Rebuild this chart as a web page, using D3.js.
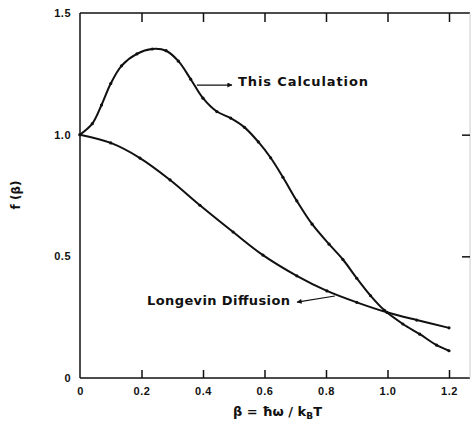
<!DOCTYPE html>
<html lang="en">
<head>
    <meta charset="UTF-8">
    <title>f(beta)</title>
    <style>
        body {
            margin: 0;
            padding: 0;
            background: #fff;
        }

        svg {
            display: block;
            font-family: "DejaVu Sans", sans-serif;
            font-weight: bold;
        }

        .tick text {
            font-size: 11px;
            fill: #111;
        }

        .curve {
            fill: none;
            stroke: #111;
            stroke-width: 2;
        }
    </style>
</head>
<body>
    <div id="chart"></div>

    <script src="https://d3js.org/d3.v7.min.js"></script>
    <script>
        // valores
        const betaCalc = [0, 0.04, 0.07, 0.1, 0.135, 0.185, 0.235, 0.28, 0.32, 0.36, 0.4, 0.445, 0.49, 0.535,
            0.58, 0.62, 0.66, 0.705, 0.755, 0.81, 0.855, 0.9, 0.945, 0.99, 1.05, 1.105, 1.16, 1.2];
        const fCalc = [1.0, 1.045, 1.122, 1.21, 1.283, 1.332, 1.352, 1.345, 1.302, 1.228, 1.15, 1.095, 1.068, 1.03,
            0.97, 0.905, 0.825, 0.728, 0.632, 0.55, 0.487, 0.41, 0.338, 0.278, 0.222, 0.18, 0.135, 0.112];

        const betaLangevin = [0, 0.1, 0.195, 0.293, 0.39, 0.498, 0.595, 0.705, 0.803, 0.9, 0.998, 1.095, 1.2];
        const fLangevin = [1.0, 0.966, 0.904, 0.814, 0.71, 0.6, 0.505, 0.42, 0.358, 0.311, 0.27, 0.238, 0.206];

        const xTicks = [0, 0.2, 0.4, 0.6, 0.8, 1.0, 1.2];
        const xTickLabels = ["0", "0.2", "0.4", "0.6", "0.8", "1.0", "1.2"];
        const yTicks = [0, 0.5, 1.0, 1.5];
        const yTickLabels = ["0", "0.5", "1.0", "1.5"];

        const width = 471;
        const height = 425;
        const frameRight = 470;

        const svg = d3.select("#chart")
            .append("svg")
            .attr("width", width)
            .attr("height", height);

        const x = d3.scaleLinear().domain([0, 1.2]).range([80, 449]);
        const y = d3.scaleLinear().domain([0, 1.5]).range([378, 13]);

        // marco
        const frame = svg.append("g").attr("stroke", "#111").attr("stroke-width", 1.5);
        frame.append("line").attr("x1", x(0)).attr("x2", frameRight).attr("y1", y(0)).attr("y2", y(0));
        frame.append("line").attr("x1", x(0)).attr("x2", frameRight).attr("y1", y(1.5)).attr("y2", y(1.5));
        frame.append("line").attr("x1", x(0)).attr("x2", x(0)).attr("y1", y(0)).attr("y2", y(1.5));
        svg.append("line")
            .attr("x1", frameRight).attr("x2", frameRight)
            .attr("y1", y(1.5)).attr("y2", y(0))
            .attr("stroke", "#ccc").attr("stroke-width", 1);

        // ejes
        const xAxis = svg.append("g")
            .attr("transform", `translate(0, ${y(0)})`)
            .call(d3.axisBottom(x).tickValues(xTicks).tickSize(-8).tickPadding(9)
                .tickFormat((d, i) => xTickLabels[i]));
        xAxis.select(".domain").remove();
        xAxis.selectAll(".tick line").attr("stroke", "#111").attr("stroke-width", 1.5)
            .filter(d => d === 0).remove();
        xAxis.selectAll(".tick text").attr("letter-spacing", 0.5);

        const xTop = svg.append("g")
            .attr("transform", `translate(0, ${y(1.5)})`)
            .call(d3.axisTop(x).tickValues(xTicks.slice(1)).tickSize(-9).tickFormat(""));
        xTop.select(".domain").remove();
        xTop.selectAll(".tick line").attr("stroke", "#111").attr("stroke-width", 1.5);

        const yAxis = svg.append("g")
            .attr("transform", `translate(${x(0)}, 0)`)
            .call(d3.axisLeft(y).tickValues(yTicks).tickSize(0).tickPadding(9)
                .tickFormat((d, i) => yTickLabels[i]));
        yAxis.select(".domain").remove();
        yAxis.selectAll(".tick text").attr("letter-spacing", 0.5);

        const yRight = svg.append("g")
            .attr("transform", `translate(${frameRight}, 0)`)
            .call(d3.axisRight(y).tickValues([0.5, 1.0]).tickSize(-8).tickFormat(""));
        yRight.select(".domain").remove();
        yRight.selectAll(".tick line").attr("stroke", "#111").attr("stroke-width", 1.5);

        // curvas
        const line = d3.line()
            .x(d => x(d[0]))
            .y(d => y(d[1]))
            .curve(d3.curveCatmullRom.alpha(0.5));

        const series = [
            d3.zip(betaCalc, fCalc),
            d3.zip(betaLangevin, fLangevin)
        ];

        series.forEach(pts => {
            svg.append("path")
                .datum(pts)
                .attr("class", "curve")
                .attr("d", line);

            svg.selectAll(null)
                .data(pts)
                .enter()
                .append("circle")
                .attr("cx", d => x(d[0]))
                .attr("cy", d => y(d[1]))
                .attr("r", 1.6)
                .attr("fill", "#111");
        });

        // flechas y rotulos
        svg.append("defs").append("marker")
            .attr("id", "head")
            .attr("viewBox", "0 0 10 10")
            .attr("refX", 9).attr("refY", 5)
            .attr("markerWidth", 7).attr("markerHeight", 5)
            .attr("markerUnits", "userSpaceOnUse")
            .attr("orient", "auto")
            .append("path")
            .attr("d", "M0,0 L10,5 L0,10 Z")
            .attr("fill", "#111");

        const arrows = [
            { from: [0.38, 1.204], to: [0.494, 1.204] },
            { from: [0.829, 0.337], to: [0.706, 0.312] }
        ];
        arrows.forEach(a => {
            svg.append("line")
                .attr("x1", x(a.from[0])).attr("y1", y(a.from[1]))
                .attr("x2", x(a.to[0])).attr("y2", y(a.to[1]))
                .attr("stroke", "#111").attr("stroke-width", 1.2)
                .attr("marker-end", "url(#head)");
        });

        const labels = [
            { text: "This Calculation", at: [0.514, 1.2], len: 130 },
            { text: "Longevin Diffusion", at: [0.218, 0.3], len: 143 }
        ];
        labels.forEach(l => {
            svg.append("text")
                .attr("x", x(l.at[0]))
                .attr("y", y(l.at[1]))
                .attr("font-size", 13)
                .attr("textLength", l.len)
                .attr("lengthAdjust", "spacing")
                .attr("fill", "#111")
                .text(l.text);
        });

        // titulos de ejes
        const xTitle = svg.append("text")
            .attr("x", 233)
            .attr("y", 416)
            .attr("font-size", 13)
            .attr("fill", "#111");
        xTitle.append("tspan").text("β = ħω / k");
        xTitle.append("tspan").attr("font-size", 9).attr("dy", 3).text("B");
        xTitle.append("tspan").attr("dy", -3).text("T");

        svg.append("text")
            .attr("transform", "translate(20, 195) rotate(-90)")
            .attr("text-anchor", "middle")
            .attr("font-size", 12)
            .attr("fill", "#111")
            .text("f (β)");
    </script>
</body>
</html>
